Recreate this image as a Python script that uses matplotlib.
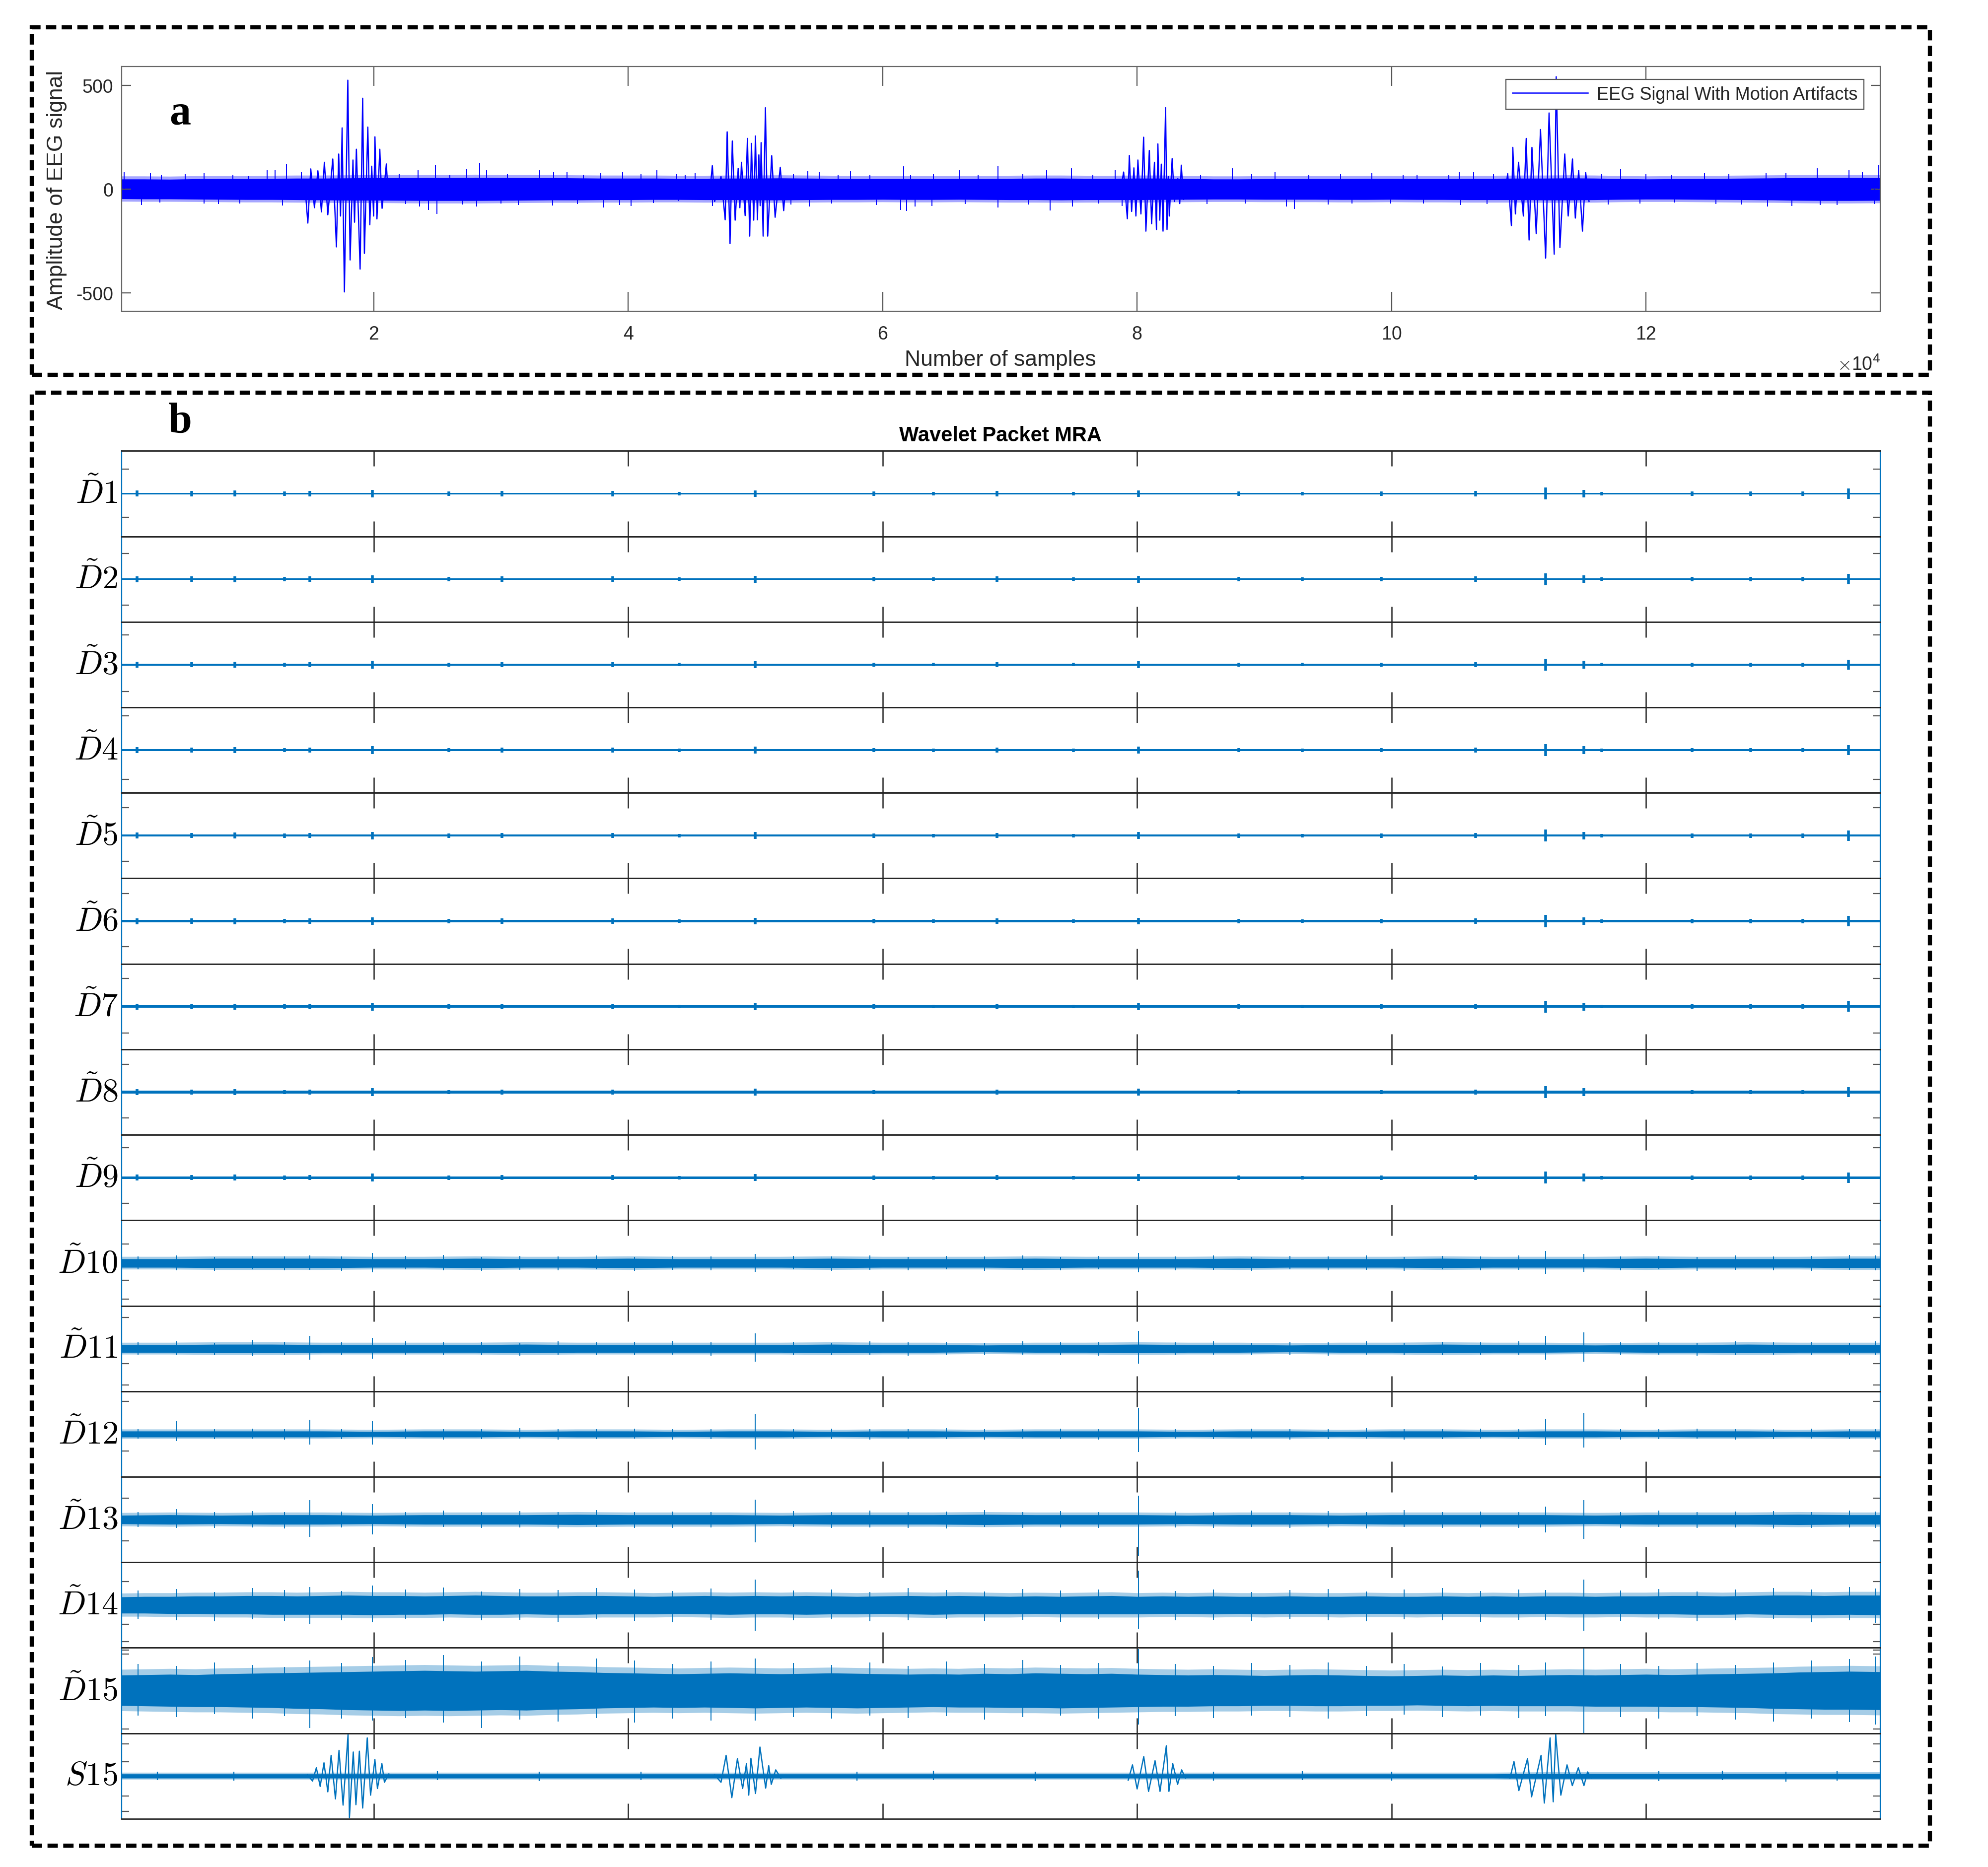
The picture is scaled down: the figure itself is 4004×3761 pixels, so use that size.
import numpy as np
import matplotlib
matplotlib.use('Agg')
import matplotlib.pyplot as plt
from matplotlib.patches import Rectangle

plt.rcParams['font.family'] = ['Liberation Sans', 'DejaVu Sans']
plt.rcParams['mathtext.fontset'] = 'cm'

EEG_BLUE = '#0000FF'
MRA_BLUE = '#0072BD'
X_MIN = 200
N_SAMPLES = 138400
tick_pos = [20000, 40000, 60000, 80000, 100000, 120000]
tick_labels = ['2', '4', '6', '8', '10', '12']

# ---------------- panel a : raw EEG ----------------
# dense noise core, read every 2000 samples (last reading at the end of the record)
core_x = list(range(0, 136001, 2000)) + [138400]
core_hi = [48, 48, 47, 49, 50, 50, 51, 52, 52, 53,
           54, 54, 55, 55, 56, 55, 54, 54, 53, 52,
           52, 52, 51, 51, 52, 52, 53, 52, 51, 50,
           50, 50, 49, 50, 50, 51, 52, 52, 51, 51,
           52, 52, 50, 48, 48, 49, 49, 50, 50, 51,
           51, 50, 50, 51, 51, 52, 52, 53, 52, 50,
           48, 49, 50, 51, 52, 53, 54, 55, 55, 54]
core_lo = [-47, -48, -48, -49, -50, -51, -51, -52, -53, -54,
           -54, -55, -56, -56, -56, -55, -54, -53, -53, -52,
           -52, -51, -51, -52, -52, -53, -53, -52, -51, -51,
           -50, -51, -51, -50, -51, -52, -52, -53, -52, -52,
           -52, -51, -50, -49, -49, -50, -50, -50, -51, -51,
           -50, -51, -51, -52, -52, -52, -53, -53, -52, -50,
           -49, -49, -50, -51, -52, -53, -55, -56, -56, -55]

# isolated spikes sticking out of the noise band
spike_up_x = [404, 2467, 3320, 6684, 8927, 10161, 11619, 12247, 13144, 14310,
              23507, 24853, 27320, 28329, 28890, 33040, 34161, 35179, 37870, 39552,
              42244, 43814, 45272, 54132, 55029, 57496, 61646, 62207, 66020, 69048,
              72885, 74836, 78268, 87464, 90829, 98455, 100922, 104511, 105308, 106429,
              117981, 124598, 129420, 133458, 135925, 138280,
              5200, 22000, 26000, 30500, 36500, 41000, 44500, 53000, 56500, 59000,
              64000, 67500, 71000, 76500, 85000, 89000, 93500, 96000, 102000, 108000,
              116500, 120000, 122000, 126500, 131000, 137000]
spike_up_y = [82, 78, 70, 78, 70, 62, 90, 94, 121, 80,
              90, 118, 97, 126, 90, 90, 82, 82, 78, 82,
              90, 74, 78, 86, 82, 86, 110, 66, 90, 113,
              90, 99, 94, 101, 82, 78, 70, 66, 82, 82,
              97, 78, 78, 101, 90, 117,
              72, 75, 70, 72, 70, 74, 68, 72, 70, 68,
              72, 70, 74, 70, 68, 72, 70, 74, 70, 72,
              75, 72, 70, 74, 78, 80]
spike_dn_x = [1749, 3207, 6684, 7806, 12852, 23619, 24292, 24965, 28105, 31357,
              34049, 38050, 39328, 40225, 43926, 46618, 54244, 59515, 61422, 61870,
              62543, 63889, 69048, 73176, 74903, 78828, 91726, 92354, 96885, 99913,
              105420, 122243, 129532, 131439, 133682, 137944,
              9500, 22500, 27000, 30000, 36000, 42000, 52800, 56000, 66500, 71500,
              77000, 85500, 88500, 95000, 102500, 107500, 117000, 119500, 125500, 127500,
              135000]
spike_dn_y = [-77, -65, -70, -73, -80, -85, -100, -120, -85, -77,
              -80, -89, -77, -81, -57, -81, -85, -77, -100, -105,
              -85, -81, -89, -104, -85, -81, -85, -96, -69, -69,
              -77, -65, -85, -81, -77, -73,
              -70, -72, -74, -70, -72, -68, -74, -70, -72, -74,
              -70, -72, -70, -74, -70, -72, -74, -70, -72, -74,
              -76]

# the four motion-artifact bursts
burst1_x = [14600, 14830, 15060, 15350, 15620, 15900, 16130, 16400, 16790, 17076,
            17256, 17400, 17525, 17704, 17973, 18153, 18377, 18500, 18646, 18938,
            19140, 19275, 19544, 19700, 19850, 20000, 20104, 20261, 20486, 20665,
            21001, 21150]
burst1_y = [20, -164, 97, -90, 88, -110, 129, -124, 145, -279,
            169, -130, 295, -496, 525, -342, 140, -160, 192, -386,
            438, -310, 299, -172, 110, -130, 252, -144, 192, -93,
            121, -40]
burst2_x = [46400, 46618, 46800, 47300, 47627, 47784, 48009, 48188, 48412, 48650,
            48780, 48906, 49197, 49377, 49556, 49691, 49870, 50005, 50162, 50274,
            50380, 50453, 50610, 50790, 50969, 51283, 51553, 51956, 52225, 52400]
burst2_y = [-30, 113, -60, 60, -148, 276, -263, 232, -150, 100,
            -90, 129, -128, 244, -227, 220, -150, 256, -148, 165,
            -80, 224, -227, 392, -227, 161, -136, 105, -104, 40]
burst3_x = [78600, 78941, 79232, 79389, 79569, 79748, 79905, 80062, 80300, 80511,
            80690, 80959, 81139, 81363, 81520, 81632, 81780, 81901, 82036, 82238,
            82350, 82450, 82529, 82754, 82933, 83200, 83350, 83471, 83650]
burst3_y = [-40, 82, -143, 162, -108, 102, -130, 140, -120, 250,
            -203, 186, -167, 129, -195, 218, -150, 120, -203, 392,
            -195, 60, -130, 147, -60, 50, -70, 115, -50]
burst4_x = [108900, 109121, 109413, 109525, 109727, 109973, 110355, 110579, 110803, 111028,
            111364, 111701, 112104, 112373, 112777, 112934, 113226, 113607, 113876, 114213,
            114437, 114700, 114998, 115250, 115514]
burst4_y = [-30, 74, -176, 201, -120, 129, -130, 244, -246, 201,
            -215, 287, -333, 367, -314, 542, -282, 169, -130, 145,
            -140, 90, -203, 80, -60]

# ---------------- panel b : wavelet packet MRA (each row scaled to +-1) ----------------
mra_labels = [r'$\tilde{D}1$', r'$\tilde{D}2$', r'$\tilde{D}3$', r'$\tilde{D}4$',
              r'$\tilde{D}5$', r'$\tilde{D}6$', r'$\tilde{D}7$', r'$\tilde{D}8$',
              r'$\tilde{D}9$', r'$\tilde{D}10$', r'$\tilde{D}11$', r'$\tilde{D}12$',
              r'$\tilde{D}13$', r'$\tilde{D}14$', r'$\tilde{D}15$', r'$S15$']

# D1..D9: thin trace with small bursts at the same places
detail_core = [0.018, 0.018, 0.022, 0.022, 0.022, 0.025, 0.03, 0.032, 0.028]
blip_x = [1400, 5700, 9100, 13000, 15000, 19900, 25900, 30100, 38800, 44000,
          50000, 59300, 64000, 69000, 75000, 80100, 88000, 93000, 99200, 106600,
          112100, 115100, 116500, 123600, 128200, 132300, 135900]
blip_amp = [0.07, 0.06, 0.07, 0.05, 0.06, 0.09, 0.05, 0.06, 0.06, 0.04,
            0.08, 0.05, 0.04, 0.06, 0.04, 0.08, 0.05, 0.04, 0.05, 0.06,
            0.14, 0.09, 0.04, 0.05, 0.05, 0.05, 0.12]

# D10..D13 and S15: solid core half-width read every 4000 samples
band_x = list(range(0, 140001, 4000))
d10_env = [0.10, 0.10, 0.11, 0.11, 0.11, 0.10, 0.10, 0.11, 0.10, 0.10,
           0.11, 0.10, 0.10, 0.10, 0.11, 0.10, 0.10, 0.10, 0.11, 0.10,
           0.10, 0.10, 0.11, 0.10, 0.10, 0.10, 0.11, 0.10, 0.10, 0.10,
           0.11, 0.10, 0.10, 0.10, 0.11, 0.11]
d11_env = [0.09, 0.09, 0.10, 0.10, 0.09, 0.09, 0.09, 0.09, 0.10, 0.09,
           0.09, 0.09, 0.09, 0.09, 0.10, 0.09, 0.09, 0.08, 0.09, 0.09,
           0.10, 0.09, 0.09, 0.08, 0.09, 0.09, 0.10, 0.09, 0.09, 0.08,
           0.09, 0.09, 0.10, 0.09, 0.09, 0.09]
d12_env = [0.07, 0.07, 0.07, 0.07, 0.07, 0.06, 0.07, 0.07, 0.06, 0.07,
           0.07, 0.06, 0.07, 0.07, 0.06, 0.07, 0.07, 0.06, 0.07, 0.07,
           0.07, 0.06, 0.07, 0.07, 0.06, 0.07, 0.07, 0.06, 0.07, 0.07,
           0.06, 0.07, 0.07, 0.06, 0.07, 0.07]
d13_env = [0.10, 0.11, 0.10, 0.11, 0.11, 0.10, 0.11, 0.11, 0.11, 0.12,
           0.11, 0.11, 0.11, 0.10, 0.11, 0.11, 0.11, 0.12, 0.11, 0.11,
           0.11, 0.10, 0.11, 0.11, 0.10, 0.11, 0.11, 0.11, 0.11, 0.10,
           0.11, 0.11, 0.11, 0.12, 0.11, 0.11]
s15_env = [0.05, 0.05, 0.05, 0.05, 0.05, 0.05, 0.05, 0.05, 0.05, 0.05,
           0.05, 0.05, 0.05, 0.05, 0.05, 0.05, 0.05, 0.05, 0.05, 0.05,
           0.05, 0.05, 0.05, 0.05, 0.05, 0.05, 0.05, 0.05, 0.06, 0.06,
           0.06, 0.06, 0.06, 0.06, 0.06, 0.06]

# D14, D15: core read every 2000 samples (upper and lower edge)
wide_x = list(range(0, 136001, 2000)) + [138400]
d14_hi = [0.19, 0.20, 0.20, 0.21, 0.21, 0.22, 0.22, 0.21, 0.22, 0.23,
          0.22, 0.22, 0.21, 0.22, 0.23, 0.22, 0.21, 0.21, 0.22, 0.22,
          0.21, 0.20, 0.21, 0.22, 0.21, 0.22, 0.21, 0.22, 0.21, 0.20,
          0.21, 0.22, 0.21, 0.22, 0.21, 0.20, 0.21, 0.20, 0.21, 0.22,
          0.20, 0.21, 0.20, 0.21, 0.20, 0.20, 0.21, 0.20, 0.20, 0.21,
          0.20, 0.20, 0.21, 0.20, 0.21, 0.20, 0.21, 0.21, 0.20, 0.21,
          0.21, 0.22, 0.22, 0.21, 0.22, 0.23, 0.23, 0.22, 0.23, 0.23]
d14_lo = [-0.19, -0.19, -0.20, -0.20, -0.21, -0.21, -0.22, -0.22, -0.22, -0.22,
          -0.23, -0.22, -0.22, -0.21, -0.22, -0.22, -0.21, -0.22, -0.22, -0.21,
          -0.21, -0.21, -0.20, -0.21, -0.22, -0.21, -0.21, -0.22, -0.21, -0.21,
          -0.20, -0.21, -0.22, -0.21, -0.21, -0.21, -0.20, -0.21, -0.21, -0.21,
          -0.21, -0.20, -0.20, -0.21, -0.20, -0.21, -0.20, -0.20, -0.21, -0.20,
          -0.20, -0.21, -0.20, -0.20, -0.21, -0.21, -0.20, -0.21, -0.21, -0.20,
          -0.21, -0.21, -0.22, -0.22, -0.21, -0.22, -0.23, -0.23, -0.22, -0.23]
d15_hi = [0.36, 0.37, 0.38, 0.37, 0.39, 0.40, 0.41, 0.42, 0.43, 0.44,
          0.45, 0.46, 0.47, 0.46, 0.45, 0.46, 0.47, 0.45, 0.44, 0.42,
          0.41, 0.40, 0.39, 0.40, 0.41, 0.40, 0.39, 0.40, 0.41, 0.40,
          0.39, 0.38, 0.39, 0.38, 0.40, 0.39, 0.41, 0.40, 0.39, 0.40,
          0.38, 0.37, 0.36, 0.37, 0.36, 0.35, 0.36, 0.37, 0.36, 0.35,
          0.34, 0.35, 0.36, 0.35, 0.36, 0.35, 0.36, 0.37, 0.36, 0.37,
          0.38, 0.37, 0.38, 0.39, 0.40, 0.41, 0.43, 0.44, 0.45, 0.44]
d15_lo = [-0.35, -0.36, -0.37, -0.38, -0.38, -0.39, -0.40, -0.42, -0.43, -0.45,
          -0.46, -0.47, -0.46, -0.47, -0.46, -0.45, -0.46, -0.44, -0.43, -0.41,
          -0.40, -0.39, -0.40, -0.39, -0.40, -0.41, -0.40, -0.39, -0.40, -0.41,
          -0.40, -0.39, -0.38, -0.39, -0.39, -0.40, -0.40, -0.41, -0.40, -0.39,
          -0.38, -0.37, -0.37, -0.36, -0.36, -0.35, -0.35, -0.36, -0.36, -0.35,
          -0.35, -0.34, -0.35, -0.36, -0.35, -0.36, -0.36, -0.36, -0.37, -0.37,
          -0.37, -0.38, -0.38, -0.39, -0.40, -0.42, -0.43, -0.44, -0.44, -0.45]

# spikes fringing the D10..D15 bands (same sample positions in every row)
fuzz_x = [1500, 4500, 7500, 10500, 13000, 15000, 17500, 19900, 22500, 25500,
          28500, 31500, 34500, 37500, 40500, 43500, 46500, 50000, 53000, 56000,
          59000, 62000, 65000, 68000, 71000, 74000, 77000, 80100, 83000, 86000,
          89000, 92000, 95000, 98000, 101000, 104000, 107000, 110000, 112100, 115100,
          118000, 121000, 124000, 127000, 130000, 133000, 136000, 138000]
d10_fz_hi = [0.16, 0.18, 0.15, 0.17, 0.16, 0.18, 0.16, 0.24, 0.17, 0.19,
             0.15, 0.17, 0.16, 0.18, 0.15, 0.17, 0.16, 0.22, 0.17, 0.16,
             0.18, 0.15, 0.17, 0.16, 0.18, 0.15, 0.17, 0.24, 0.16, 0.18,
             0.15, 0.17, 0.16, 0.18, 0.15, 0.17, 0.16, 0.18, 0.28, 0.22,
             0.16, 0.17, 0.15, 0.18, 0.16, 0.17, 0.19, 0.18]
d10_fz_lo = [-0.15, -0.17, -0.18, -0.15, -0.17, -0.16, -0.18, -0.22, -0.15, -0.17,
             -0.18, -0.16, -0.17, -0.15, -0.18, -0.16, -0.17, -0.20, -0.15, -0.18,
             -0.16, -0.17, -0.15, -0.18, -0.16, -0.17, -0.15, -0.22, -0.17, -0.16,
             -0.18, -0.15, -0.17, -0.16, -0.18, -0.15, -0.17, -0.16, -0.25, -0.20,
             -0.17, -0.15, -0.18, -0.16, -0.17, -0.18, -0.16, -0.17]
d11_fz_hi = [0.15, 0.17, 0.14, 0.20, 0.16, 0.30, 0.15, 0.25, 0.17, 0.15,
             0.16, 0.14, 0.17, 0.15, 0.16, 0.18, 0.15, 0.36, 0.16, 0.14,
             0.17, 0.15, 0.16, 0.14, 0.17, 0.15, 0.16, 0.42, 0.15, 0.17,
             0.14, 0.16, 0.15, 0.17, 0.14, 0.16, 0.15, 0.17, 0.30, 0.38,
             0.15, 0.16, 0.14, 0.17, 0.15, 0.16, 0.14, 0.17]
d11_fz_lo = [-0.14, -0.16, -0.15, -0.18, -0.15, -0.26, -0.16, -0.24, -0.14, -0.16,
             -0.15, -0.17, -0.14, -0.16, -0.15, -0.14, -0.17, -0.30, -0.15, -0.16,
             -0.14, -0.17, -0.15, -0.16, -0.14, -0.15, -0.17, -0.35, -0.16, -0.14,
             -0.16, -0.15, -0.17, -0.14, -0.16, -0.15, -0.14, -0.16, -0.26, -0.30,
             -0.16, -0.14, -0.17, -0.15, -0.14, -0.16, -0.15, -0.16]
d12_fz_hi = [0.12, 0.30, 0.11, 0.13, 0.12, 0.33, 0.11, 0.30, 0.13, 0.12,
             0.11, 0.14, 0.12, 0.11, 0.13, 0.12, 0.11, 0.47, 0.12, 0.13,
             0.11, 0.12, 0.14, 0.11, 0.12, 0.13, 0.11, 0.62, 0.12, 0.11,
             0.13, 0.12, 0.11, 0.14, 0.12, 0.11, 0.13, 0.12, 0.36, 0.50,
             0.12, 0.11, 0.13, 0.12, 0.11, 0.13, 0.12, 0.11]
d12_fz_lo = [-0.11, -0.16, -0.12, -0.11, -0.13, -0.25, -0.12, -0.25, -0.11, -0.13,
             -0.12, -0.11, -0.13, -0.12, -0.11, -0.13, -0.12, -0.36, -0.11, -0.12,
             -0.13, -0.11, -0.12, -0.13, -0.11, -0.12, -0.13, -0.42, -0.11, -0.12,
             -0.11, -0.13, -0.12, -0.11, -0.13, -0.12, -0.11, -0.12, -0.26, -0.32,
             -0.13, -0.12, -0.11, -0.13, -0.12, -0.11, -0.12, -0.13]
d13_fz_hi = [0.18, 0.25, 0.17, 0.20, 0.18, 0.45, 0.19, 0.36, 0.17, 0.21,
             0.18, 0.20, 0.17, 0.22, 0.18, 0.19, 0.17, 0.47, 0.20, 0.18,
             0.21, 0.17, 0.19, 0.22, 0.18, 0.20, 0.17, 0.56, 0.19, 0.18,
             0.21, 0.17, 0.20, 0.18, 0.22, 0.17, 0.19, 0.18, 0.30, 0.46,
             0.18, 0.21, 0.17, 0.19, 0.20, 0.18, 0.21, 0.19]
d13_fz_lo = [-0.17, -0.20, -0.19, -0.18, -0.21, -0.40, -0.18, -0.35, -0.20, -0.17,
             -0.19, -0.18, -0.21, -0.17, -0.19, -0.20, -0.18, -0.53, -0.17, -0.20,
             -0.18, -0.19, -0.21, -0.17, -0.20, -0.18, -0.19, -0.85, -0.18, -0.20,
             -0.17, -0.19, -0.18, -0.21, -0.17, -0.20, -0.18, -0.19, -0.30, -0.45,
             -0.19, -0.17, -0.20, -0.18, -0.21, -0.19, -0.18, -0.20]
d14_fz_hi = [0.34, 0.38, 0.31, 0.40, 0.35, 0.42, 0.33, 0.46, 0.37, 0.41,
             0.32, 0.38, 0.35, 0.40, 0.36, 0.33, 0.39, 0.60, 0.34, 0.37,
             0.31, 0.40, 0.35, 0.32, 0.38, 0.34, 0.36, 0.80, 0.33, 0.37,
             0.31, 0.35, 0.38, 0.32, 0.36, 0.40, 0.33, 0.37, 0.35, 0.60,
             0.34, 0.38, 0.32, 0.36, 0.40, 0.37, 0.42, 0.39]
d14_fz_lo = [-0.32, -0.36, -0.38, -0.33, -0.37, -0.45, -0.35, -0.40, -0.32, -0.38,
             -0.36, -0.34, -0.39, -0.33, -0.37, -0.40, -0.34, -0.60, -0.36, -0.33,
             -0.38, -0.35, -0.32, -0.37, -0.34, -0.39, -0.33, -0.55, -0.36, -0.34,
             -0.37, -0.32, -0.36, -0.38, -0.33, -0.35, -0.39, -0.34, -0.36, -0.60,
             -0.37, -0.33, -0.38, -0.35, -0.32, -0.40, -0.36, -0.41]
d15_fz_hi = [0.62, 0.58, 0.66, 0.60, 0.55, 0.70, 0.64, 0.78, 0.72, 0.83,
             0.68, 0.80, 0.66, 0.75, 0.70, 0.62, 0.68, 0.75, 0.64, 0.60,
             0.66, 0.58, 0.68, 0.62, 0.72, 0.60, 0.65, 0.97, 0.62, 0.58,
             0.64, 0.60, 0.66, 0.58, 0.62, 0.56, 0.64, 0.60, 0.66, 0.98,
             0.62, 0.58, 0.64, 0.60, 0.66, 0.70, 0.74, 0.80]
d15_fz_lo = [-0.58, -0.62, -0.55, -0.65, -0.60, -0.87, -0.66, -0.70, -0.64, -0.75,
             -0.87, -0.68, -0.72, -0.64, -0.75, -0.66, -0.70, -0.70, -0.62, -0.66,
             -0.58, -0.64, -0.60, -0.68, -0.62, -0.58, -0.66, -0.80, -0.60, -0.64,
             -0.58, -0.62, -0.66, -0.60, -0.56, -0.62, -0.58, -0.64, -0.60, -1.00,
             -0.62, -0.66, -0.60, -0.68, -0.72, -0.66, -0.74, -0.80]

s15_spk_x = [3000, 9000, 25000, 33000, 41000, 58000, 64000, 72000, 86000, 93000,
             100000, 121000, 126000, 131000, 135000]
s15_spk_hi = [0.1, 0.11, 0.12, 0.1, 0.11, 0.1, 0.13, 0.1, 0.11, 0.12,
              0.1, 0.12, 0.13, 0.11, 0.12]
s15_spk_lo = [-0.1, -0.11, -0.1, -0.12, -0.1, -0.11, -0.1, -0.12, -0.11, -0.1,
              -0.11, -0.12, -0.1, -0.13, -0.11]

# S15 approximation: the slow artifact bursts
s15_b1_x = [14800, 15200, 15500, 15800, 16100, 16400, 16660, 17000, 17280, 17600,
            17990, 18100, 18400, 18610, 18880, 19140, 19500, 19760, 20100, 20300,
            20650, 20850, 21200]
s15_b1_y = [0.03, -0.12, 0.20, -0.25, 0.32, -0.38, 0.50, -0.55, 0.62, -0.70,
            1.00, -1.00, 0.58, -0.69, 0.60, -0.77, 0.92, -0.46, 0.40, -0.30,
            0.30, -0.15, 0.05]
s15_b2_x = [46800, 47300, 47700, 48150, 48590, 49000, 49300, 49480, 49650, 50010,
            50360, 50810, 51050, 51250, 51600, 52000]
s15_b2_y = [0.03, -0.15, 0.50, -0.52, 0.42, -0.30, 0.30, -0.46, 0.43, -0.42,
            0.70, -0.29, 0.25, -0.20, 0.15, -0.05]
s15_b3_x = [79300, 79635, 80000, 80522, 80900, 81409, 81800, 82296, 82500, 82800,
            83183, 83500, 83800]
s15_b3_y = [-0.10, 0.27, -0.31, 0.47, -0.37, 0.37, -0.37, 0.73, -0.37, 0.30,
            -0.20, 0.15, -0.05]
s15_b4_x = [109300, 109616, 110000, 110680, 111000, 111744, 112000, 112454, 112700, 112898,
            113300, 113785, 114200, 114672, 115115, 115400, 115700]
s15_b4_y = [-0.05, 0.35, -0.35, 0.42, -0.50, 0.50, -0.65, 0.92, -0.62, 1.00,
            -0.46, 0.27, -0.23, 0.20, -0.23, 0.10, -0.05]

mra_yticks = [[-0.55, 0.57], [-0.61, 0.6], [-0.63, 0.69], [-0.68, 0.8], [-0.6, 0.65],
              [-0.6, 0.65], [-0.62, 0.66], [-0.6, 0.65], [-0.6, 0.7],
              [-0.84, -0.4, 0.45], [-0.85, -0.35, 0.73], [-0.4, 0.77], [-0.5, 0.5],
              [-0.85, -0.45, 0.55], [-0.9, 0.85, 0.95], [-0.85, -0.48, 0.35, 0.77]]
# width (pt) of the soft fringe drawn along the band edges
fringe_lw = [3.0, 3.0, 2.5, 3.5, 5.0, 8.0]


fig = plt.figure(figsize=(20.02, 18.81), dpi=200)
fig.patch.set_facecolor('white')

# ---------- panel a ----------
ax = fig.add_axes([0.0612, 0.8330, 0.8846, 0.1310])
ax.fill_between(core_x, core_lo, core_hi, color=EEG_BLUE, lw=0)
ax.plot(core_x, core_hi, color=EEG_BLUE, lw=4, alpha=0.35, solid_capstyle='butt')
ax.plot(core_x, core_lo, color=EEG_BLUE, lw=4, alpha=0.35, solid_capstyle='butt')
ax.vlines(spike_up_x, 0, spike_up_y, color=EEG_BLUE, lw=0.7)
ax.vlines(spike_dn_x, 0, spike_dn_y, color=EEG_BLUE, lw=0.7)
for bx, by in [(burst1_x, burst1_y), (burst2_x, burst2_y),
               (burst3_x, burst3_y), (burst4_x, burst4_y)]:
    ax.plot(bx, by, color=EEG_BLUE, lw=0.9)
ax.plot([], [], color=EEG_BLUE, lw=0.9, label='EEG Signal With Motion Artifacts')

ax.set_xlim(X_MIN, N_SAMPLES)
ax.set_ylim(-590, 590)
ax.set_xticks(tick_pos)
ax.set_xticklabels(tick_labels)
ax.set_yticks([-500, 0, 500])
ax.set_yticklabels(['-500', '0', '500'])
ax.tick_params(axis='x', direction='in', length=14, width=0.8, top=True,
               color='#555555', labelsize=13.5, labelcolor='#262626', pad=10)
ax.tick_params(axis='y', direction='in', length=7, width=0.8, right=True,
               color='#555555', labelsize=13.5, labelcolor='#262626', pad=6)
for sp in ax.spines.values():
    sp.set_color('#666666')
    sp.set_linewidth(0.8)

leg = ax.legend(loc='upper right', bbox_to_anchor=(0.9906, 0.948), fontsize=13,
                frameon=True, fancybox=False, framealpha=1, handlelength=4.2,
                borderaxespad=0, borderpad=0.35, handletextpad=0.5)
leg.get_frame().set_edgecolor('#555555')
leg.get_frame().set_linewidth(0.8)
for t in leg.get_texts():
    t.set_color('#262626')

fig.text(0.5032, 0.8072, 'Number of samples', ha='center', va='center',
         fontsize=16, color='#262626')
fig.text(0.0287, 0.8982, 'Amplitude of EEG signal', ha='center', va='center',
         rotation=90, fontsize=16, color='#262626')
fig.text(0.9458, 0.8045, r'$\times\mathregular{10^{4}}$', ha='right', va='center',
         fontsize=13.5, color='#262626')
fig.text(0.0906, 0.9389, 'a', ha='center', va='center', fontsize=31,
         fontweight='bold', family='Liberation Serif')

# ---------- panel b ----------
fig.text(0.0906, 0.7740, 'b', ha='center', va='center', fontsize=31,
         fontweight='bold', family='Liberation Serif')
fig.text(0.5032, 0.7665, 'Wavelet Packet MRA', ha='center', va='center',
         fontsize=15, fontweight='bold', color='black')

band_core = [(band_x, np.negative(d10_env), d10_env),
             (band_x, np.negative(d11_env), d11_env),
             (band_x, np.negative(d12_env), d12_env),
             (band_x, np.negative(d13_env), d13_env),
             (wide_x, d14_lo, d14_hi),
             (wide_x, d15_lo, d15_hi)]
band_fuzz = [(d10_fz_lo, d10_fz_hi), (d11_fz_lo, d11_fz_hi), (d12_fz_lo, d12_fz_hi),
             (d13_fz_lo, d13_fz_hi), (d14_fz_lo, d14_fz_hi), (d15_fz_lo, d15_fz_hi)]

mra_top, mra_bottom = 0.7583, 0.0258
row_h = (mra_top - mra_bottom) / len(mra_labels)
for i, label in enumerate(mra_labels):
    bottom = mra_top - (i + 1) * row_h
    a = fig.add_axes([0.0612, bottom, 0.8846, row_h])
    if i < 9:
        c = detail_core[i]
        a.fill_between([0, N_SAMPLES], [-c, -c], [c, c], color=MRA_BLUE, lw=0)
        a.vlines(blip_x, np.negative(blip_amp), blip_amp, color=MRA_BLUE, lw=2.0)
        a.set_ylim(-1, 1)
    elif i < 15:
        bx, blo, bhi = band_core[i - 9]
        a.fill_between(bx, blo, bhi, color=MRA_BLUE, lw=0)
        for edge in (blo, bhi):
            a.plot(bx, edge, color=MRA_BLUE, lw=fringe_lw[i - 9], alpha=0.35,
                   solid_capstyle='butt')
        flo, fhi = band_fuzz[i - 9]
        a.vlines(fuzz_x, flo, fhi, color=MRA_BLUE, lw=0.7)
        a.set_ylim(-1, 1)
    else:
        a.fill_between(band_x, np.negative(s15_env), s15_env, color=MRA_BLUE, lw=0)
        for edge in (np.negative(s15_env), s15_env):
            a.plot(band_x, edge, color=MRA_BLUE, lw=2.0, alpha=0.35,
                   solid_capstyle='butt')
        a.vlines(s15_spk_x, s15_spk_lo, s15_spk_hi, color=MRA_BLUE, lw=0.8)
        for bx, by in [(s15_b1_x, s15_b1_y), (s15_b2_x, s15_b2_y),
                       (s15_b3_x, s15_b3_y), (s15_b4_x, s15_b4_y)]:
            a.plot(bx, by, color=MRA_BLUE, lw=0.9)
        a.set_ylim(-1.03, 1.03)
    a.set_xlim(X_MIN, N_SAMPLES)
    a.set_xticks(tick_pos)
    a.set_yticks(mra_yticks[i])
    a.tick_params(axis='x', direction='in', length=11, width=0.9, top=True,
                  color='#222222', labelbottom=False)
    a.tick_params(axis='y', direction='in', length=5.5, width=0.8, right=True,
                  color='#555555', labelleft=False)
    for side in ['top', 'bottom']:
        a.spines[side].set_color('#222222')
        a.spines[side].set_linewidth(1.0)
    for side in ['left', 'right']:
        a.spines[side].set_color(MRA_BLUE)
        a.spines[side].set_linewidth(0.8)
    fig.text(0.0593, bottom + row_h / 2, label, ha='right', va='center', fontsize=24)

# dashed frames around both panels
for x0, y0, w, h in [(0.01594, 0.79905, 0.9548, 0.18601),
                     (0.01594, 0.01154, 0.9548, 0.77801)]:
    fig.add_artist(Rectangle((x0, y0), w, h, transform=fig.transFigure, fill=False,
                             ec='black', lw=3, ls=(0, (2.5, 1.3))))

fig.savefig('out.png', dpi=200, facecolor='white')
